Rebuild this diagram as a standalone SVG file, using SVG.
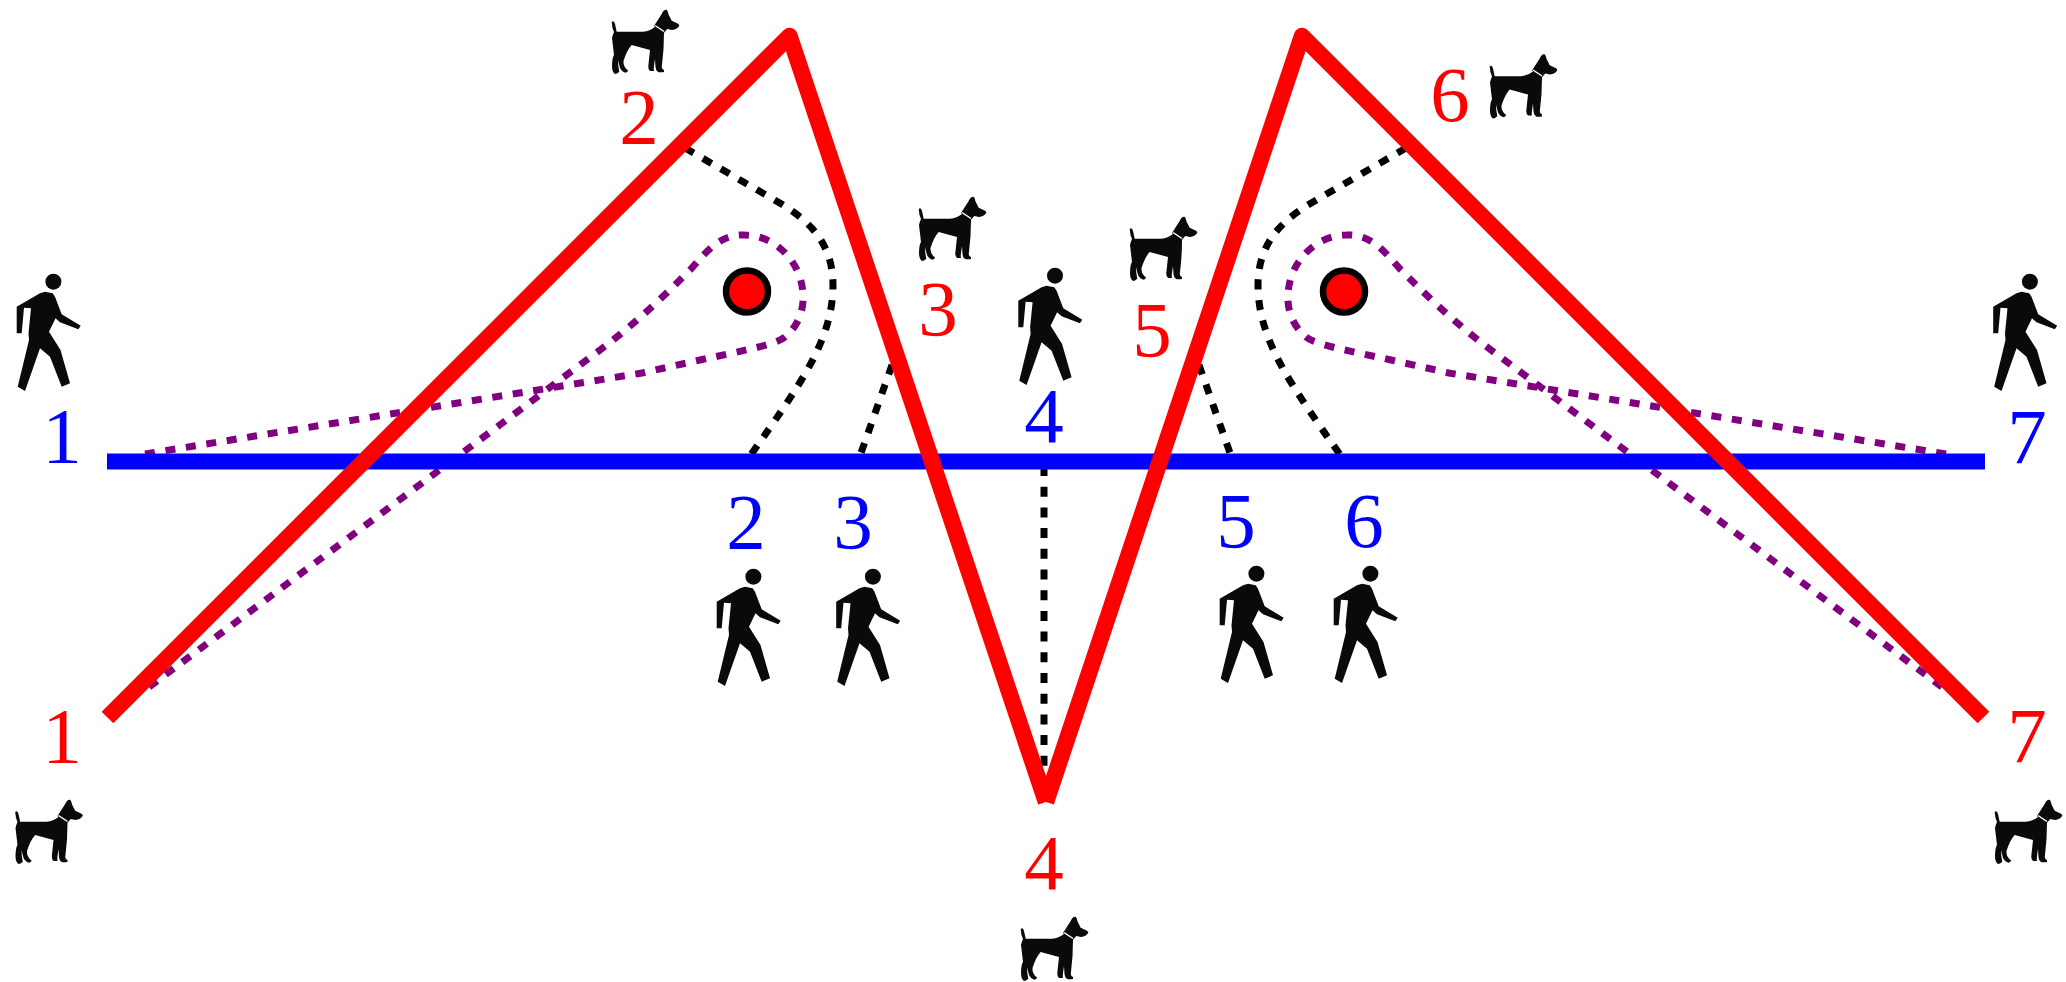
<svg xmlns="http://www.w3.org/2000/svg" width="2066" height="982" viewBox="0 0 2066 982">
<style>
text{font-family:"Liberation Serif","Times New Roman",serif;font-size:79px;text-anchor:middle}
.r{fill:#f00}.b{fill:#00f}
.red{fill:none;stroke:#f00;stroke-width:16.5;stroke-linejoin:round}
.blue{fill:none;stroke:#00f;stroke-width:16}
.k{fill:none;stroke:#000;stroke-width:7;stroke-dasharray:10 10.7}
.p{fill:none;stroke:#800080;stroke-width:7;stroke-dasharray:10 10.7}
.c{fill:#f00;stroke:#000;stroke-width:6.5}
.i{fill:#0a0a0a}
</style>
<defs>
<g id="walker"><circle cx="53.4" cy="21.7" r="8"/><path d="M16.700 46.700L40 33.300L45 31.700L52.700 33.300L55 36.700L61.700 54.300L80.700 65.700L78.300 69.300L60 62.300L55.500 58.300L49 71.700L60.500 90L70 123.300L61.700 126.700L50 96.700L40 88.300L25 131L17.700 126.700L29 80L28.500 73.300L31 48.300L24 47.700L21.700 73.300L16.700 73.300Z"/></g>
<g id="dog"><path d="M21.700 22Q24 20 25 24L26.700 31.700L53 31.700Q60 31 65 27L64 26L71.700 14Q74 9 77 10Q78.500 13 78.300 14L81.700 20.700L86 22.700Q89.500 24 89.300 25.700Q87 29.500 82 30L77.300 29L74 32.700Q74 50 72 65Q71 69 74 70L74 72Q70 72.500 68 72Q65.500 70 65.500 67L65 59L64 66Q63.500 70 64 71L60 71Q58 69 58.300 66L60 50L41.700 45Q37 50 33.500 61Q33 67 38.300 70.700L36 72.700Q32 72 30 68L28 60Q28 66 29.300 71.700Q27 74 25 74Q22 72 22 66Q22 58 24 55L22 38Q23 34 24 32Q22 28 21.700 22Z"/><path d="M65 25.500L74 31.500" fill="none" stroke="#fff" stroke-width="1.500"/></g>
</defs>
<g id="connectors">
<path id="dash-l1" class="k" d="M685 148L778 202C805 218 833 240 833 285C833 340 800 385 750 456"/>
<path id="dash-l2" class="k" d="M892 365L861 453"/>
<path id="dash-c" class="k" d="M1044 466V772"/>
<path id="dash-r1" class="k" d="M1406 148L1313 202C1286 218 1258 240 1258 285C1258 340 1291 385 1341 456"/>
<path id="dash-r2" class="k" d="M1199 365L1230 453"/>
<path id="purple-l" class="p" d="M145 454L642 373L700 360C745 350 775 345 785 337C797 327 804 312 803 295C802 262 775 235 745 235C720 234 708 250 690 270C670 290 640 320 600 350L145 690"/>
<path id="purple-r" class="p" d="M1946 454L1449 373L1391 360C1346 350 1316 345 1306 337C1294 327 1287 312 1288 295C1289 262 1316 235 1346 235C1371 234 1383 250 1401 270C1421 290 1451 320 1491 350L1946 690"/>
<path id="blue-line" class="blue" d="M107 461.500H1985"/>
<path id="red-line-a" class="red" d="M107.500 717.500L789.500 36L1046 802"/>
<path id="red-line-b" class="red" d="M1046 802L1302 36L1983.500 717.500"/>
</g>
<g id="obstacle-l"><circle class="c" cx="747" cy="291.500" r="21"/></g>
<g id="obstacle-r"><circle class="c" cx="1344" cy="291.500" r="21"/></g>
<g id="blue-1"><text class="b" x="62" y="462">1</text><use class="i" href="#walker" y="260"/></g>
<g id="blue-2"><text class="b" x="746" y="548">2</text><use class="i" href="#walker" x="700" y="555"/></g>
<g id="blue-3"><text class="b" x="853" y="548">3</text><use class="i" href="#walker" x="819.500" y="555"/></g>
<g id="blue-4"><text class="b" x="1044" y="442">4</text><use class="i" href="#walker" x="1001.600" y="254"/></g>
<g id="blue-5"><text class="b" x="1236" y="547">5</text><use class="i" href="#walker" x="1203" y="552"/></g>
<g id="blue-6"><text class="b" x="1364" y="547">6</text><use class="i" href="#walker" x="1317" y="552"/></g>
<g id="blue-7"><text class="b" x="2027" y="463">7</text><use class="i" href="#walker" x="1976.500" y="260"/></g>
<g id="red-1"><text class="r" x="62" y="762">1</text><use class="i" href="#dog" transform="translate(-6.500 790)"/></g>
<g id="red-2"><text class="r" x="639" y="143">2</text><use class="i" href="#dog" transform="translate(590 0)"/></g>
<g id="red-3"><text class="r" x="938" y="335">3</text><use class="i" href="#dog" transform="translate(897 187)"/></g>
<g id="red-4"><text class="r" x="1044" y="889">4</text><use class="i" href="#dog" transform="translate(999 907)"/></g>
<g id="red-5"><text class="r" x="1152" y="356">5</text><use class="i" href="#dog" transform="translate(1108 207)"/></g>
<g id="red-6"><text class="r" x="1450" y="121">6</text><use class="i" href="#dog" transform="translate(1468 44.500)"/></g>
<g id="red-7"><text class="r" x="2027" y="762">7</text><use class="i" href="#dog" transform="translate(1973 790)"/></g>
</svg>
